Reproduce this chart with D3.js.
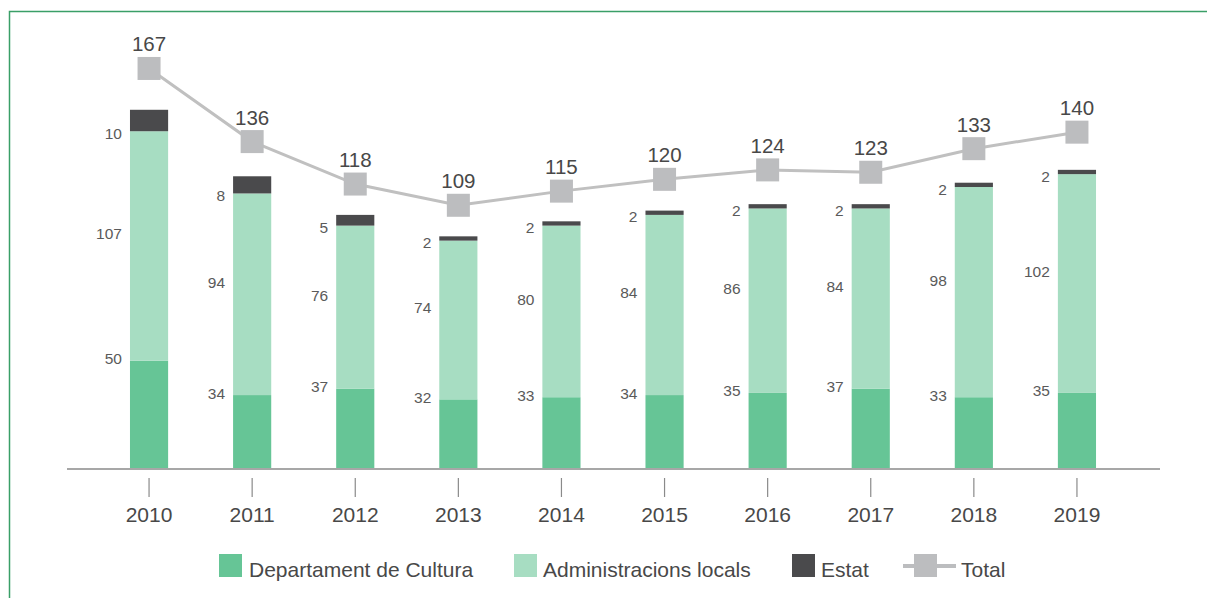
<!DOCTYPE html>
<html>
<head>
<meta charset="utf-8">
<script src="https://cdn.jsdelivr.net/npm/d3@7"></script>
<style>
  html, body { margin: 0; padding: 0; background: #fff; }
  svg { display: block; font-family: "Liberation Sans", Arial, Helvetica, sans-serif; }
</style>
</head>
<body>
<svg id="chart" width="1207" height="598"></svg>
<script>
const years = ["2010","2011","2012","2013","2014","2015","2016","2017","2018","2019"];
const departament = [50, 34, 37, 32, 33, 34, 35, 37, 33, 35];
const administracions = [107, 94, 76, 74, 80, 84, 86, 84, 98, 102];
const estat = [10, 8, 5, 2, 2, 2, 2, 2, 2, 2];
const total = [167, 136, 118, 109, 115, 120, 124, 123, 133, 140];
const seriesNames = ["Departament de Cultura", "Administracions locals", "Estat", "Total"];

const colors = ["#66c596", "#a7ddc2", "#4a4a4c", "#bcbdbf"];
const textCol = "#484848";

const svg = d3.select("#chart");

// border
svg.append("path")
  .attr("d", "M9.5,598 L9.5,11.5 L1207,11.5")
  .attr("fill", "none").attr("stroke", "#3a9f67").attr("stroke-width", 1.5);

const x = d3.scaleBand().domain(years).range([97.5, 1128.5]).paddingInner(0.63).paddingOuter(0.315);
const yBar = d3.scaleLinear().domain([0, 200]).range([468, 39]);
const yLine = d3.scaleLinear().domain([0, 180]).range([462.4, 37.8]);

const rows = years.map((y, i) => ({ year: y, dep: departament[i], adm: administracions[i], est: estat[i], tot: total[i] }));
const stack = d3.stack().keys(["dep", "adm", "est"])(rows);

const gBars = svg.append("g");
stack.forEach((layer, li) => {
  gBars.selectAll(null).data(layer).enter().append("rect")
    .attr("x", d => x(d.data.year))
    .attr("width", x.bandwidth())
    .attr("y", d => yBar(d[1]))
    .attr("height", d => yBar(d[0]) - yBar(d[1]))
    .attr("fill", colors[li]);
});

// value labels
const lab = svg.append("g").attr("font-size", 15.5).attr("fill", "#5a5a5a").attr("text-anchor", "end");
stack.forEach((layer, li) => {
  lab.selectAll(null).data(layer).enter().append("text")
    .attr("x", d => x(d.data.year) - 8)
    .attr("y", d => {
      let c;
      if (li === 0) c = yBar(d[1]) - 2;
      else if (li === 1) c = (yBar(d[0]) + yBar(d[1])) / 2 - 12;
      else c = yBar(d[0]) + 2;
      return c + 5.5;
    })
    .text(d => d[1] - d[0]);
});

// axis
const axisG = svg.append("g").attr("transform", "translate(0,469)");
axisG.append("line").attr("x1", 67).attr("x2", 1160).attr("y1", 0).attr("y2", 0)
  .attr("stroke", "#8a8a8a").attr("stroke-width", 1.5);
const xAxis = d3.axisBottom(x).tickSize(0).tickPadding(0);
const ax = svg.append("g").attr("transform", "translate(0,469)").call(xAxis);
ax.select(".domain").remove();
ax.selectAll(".tick").append("line").attr("y1", 9).attr("y2", 28).attr("stroke", "#8a8a8a").attr("stroke-width", 1.2);
ax.selectAll(".tick text").attr("y", 53).attr("dy", null).attr("font-size", 21).attr("fill", textCol)
  .attr("font-family", "Liberation Sans, Arial, sans-serif");

// total line
const cx = d => x(d.year) + x.bandwidth() / 2;
const line = d3.line().x(cx).y(d => yLine(d.tot));
svg.append("path").datum(rows).attr("d", line).attr("fill", "none")
  .attr("stroke", "#c0c0c0").attr("stroke-width", 3);
svg.selectAll(".mk").data(rows).enter().append("rect")
  .attr("x", d => cx(d) - 11.5).attr("y", d => yLine(d.tot) - 11.5)
  .attr("width", 23).attr("height", 23).attr("fill", colors[3]);
svg.selectAll(".tl").data(rows).enter().append("text")
  .attr("x", cx).attr("y", d => yLine(d.tot) - 17)
  .attr("text-anchor", "middle").attr("font-size", 20.5).attr("fill", textCol)
  .text(d => d.tot);

// legend
const leg = svg.append("g");
const legItems = [
  { name: seriesNames[0], sx: 219, tx: 249, type: "rect", c: colors[0] },
  { name: seriesNames[1], sx: 514, tx: 543, type: "rect", c: colors[1] },
  { name: seriesNames[2], sx: 792, tx: 821, type: "rect", c: colors[2] },
  { name: seriesNames[3], sx: 914, tx: 961, type: "line", c: colors[3] }
];
legItems.forEach(it => {
  if (it.type === "line") {
    leg.append("line").attr("x1", it.sx - 11).attr("x2", it.sx + 42).attr("y1", 566).attr("y2", 566)
      .attr("stroke", it.c).attr("stroke-width", 4);
  }
  leg.append("rect").attr("x", it.sx).attr("y", 554).attr("width", 23).attr("height", 23).attr("fill", it.c);
  leg.append("text").attr("x", it.tx).attr("y", 577).attr("font-size", 21).attr("fill", textCol).text(it.name);
});
</script>
</body>
</html>
